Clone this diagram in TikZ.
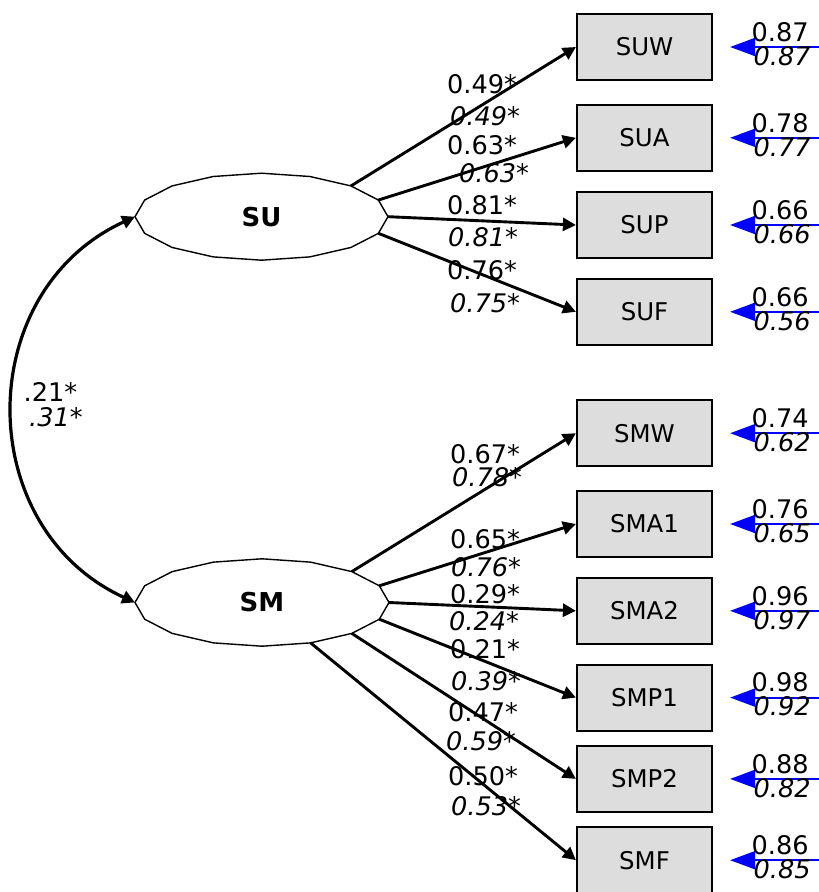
\documentclass[tikz,border=0pt]{standalone}
\usepackage{fontspec}
\setmainfont{DejaVu Sans}
\usepackage{tikz}
\usetikzlibrary{positioning, arrows.meta, calc}
\definecolor{obsFill}{HTML}{DDDDDD}
\definecolor{errBlue}{HTML}{0000FF}
\newcommand{\resid}[3]{%
  \coordinate (#1-e) at ([xshift=8.5pt]#1.east);
  \coordinate (#1-r) at ([xshift=56pt]#1.east);
  \draw[err] (#1-r) -- (#1-e);
  \node[val] (#1-v) at ([xshift=33.5pt, yshift=7.5pt]#1.east) {#2};
  \node[vali] (#1-vi) at ([xshift=34.5pt, yshift=-4.5pt]#1.east) {#3};
}

\begin{document}
\begin{tikzpicture}[x=0.5pt, y=-0.5pt, obs/.style={draw, line width=1.1pt, fill=obsFill, minimum width=67.5pt, minimum height=33pt, inner sep=0pt, font=\fontsize{12.2}{14}\selectfont},lat/.style={inner sep=0pt, font=\fontsize{13}{15}\selectfont\bfseries},latb/.style={line width=0.7pt},load/.style={line width=1.45pt, -{Triangle[length=6.5pt, width=6.5pt]}},cov/.style={line width=1.6pt, {Triangle[length=6.5pt, width=6.5pt]}-{Triangle[length=6.5pt, width=6.5pt]}},err/.style={errBlue, line width=1pt, -{Triangle[length=12.5pt, width=9pt]}},val/.style={inner sep=0pt, font=\fontsize{12.8}{14}\selectfont},vali/.style={inner sep=0pt, font=\fontsize{12.8}{14}\selectfont\itshape}]
\useasboundingbox (0,0) rectangle (818,892);
% indicators
\node[obs] (suw) at (644.5,47) {SUW};
\node[obs, below=11.3pt of suw] (sua) {SUA};
\node[obs, below=9.5pt of sua] (sup) {SUP};
\node[obs, below=9.3pt of sup] (suf) {SUF};
\node[obs, below=26.6pt of suf] (smw) {SMW};
\node[obs, below=11.3pt of smw] (sma1) {SMA1};
\node[obs, below=9.3pt of sma1] (sma2) {SMA2};
\node[obs, below=9.3pt of sma2] (smp1) {SMP1};
\node[obs, below=6.55pt of smp1] (smp2) {SMP2};
\node[obs, below=6.55pt of smp2] (smf) {SMF};
% factors
\node[lat] (su) at (261.5,216.7) {SU};
\node[lat] (sm) at (262,602.5) {SM};
\foreach \k in {0,...,15} {
  \coordinate (su-\k) at ($(su.center)+({126.5*cos(\k*22.5)},{43.5*sin(\k*22.5)})$);
  \coordinate (sm-\k) at ($(sm.center)+({127*cos(\k*22.5)},{43.7*sin(\k*22.5)})$);
}
\draw[latb] (su-0) \foreach \k in {1,...,15} {-- (su-\k)} -- cycle;
\draw[latb] (sm-0) \foreach \k in {1,...,15} {-- (sm-\k)} -- cycle;
% loadings
\draw[load] (su-14) -- (suw.west);
\draw[load] (su-15) -- (sua.west);
\draw[load] (su-0) -- (sup.west);
\draw[load] (su-1) -- (suf.west);
\draw[load] (sm-14) -- (smw.west);
\draw[load] (sm-15) -- (sma1.west);
\draw[load] (sm-0) -- (sma2.west);
\draw[load] (sm-1) -- (smp1.west);
\draw[load] (sm-2) -- (smp2.west);
\draw[load] (sm-3) -- (smf.west);
\draw[cov] (su-8) .. controls +(-163,75) and +(-163,-75) .. (sm-8);
\node[val] (c-a) at (50.5,392) {.21*};
\node[vali] (c-b) at (56,417) {.31*};
% residuals
\resid{suw}{0.87}{0.87}
\resid{sua}{0.78}{0.77}
\resid{sup}{0.66}{0.66}
\resid{suf}{0.66}{0.56}
\resid{smw}{0.74}{0.62}
\resid{sma1}{0.76}{0.65}
\resid{sma2}{0.96}{0.97}
\resid{smp1}{0.98}{0.92}
\resid{smp2}{0.88}{0.82}
\resid{smf}{0.86}{0.85}
% loading values
\node[val] (l-suw) at (482,84) {0.49*}; \node[vali] (li-suw) at (485,116) {0.49*};
\node[val] (l-sua) at (482,145) {0.63*}; \node[vali] (li-sua) at (494,173) {0.63*};
\node[val] (l-sup) at (482,205) {0.81*}; \node[vali] (li-sup) at (483,237) {0.81*};
\node[val] (l-suf) at (482,270) {0.76*}; \node[vali] (li-suf) at (485,303) {0.75*};
\node[val] (l-smw) at (485,454) {0.67*}; \node[vali] (li-smw) at (487,477) {0.78*};
\node[val] (l-sma1) at (485,539) {0.65*}; \node[vali] (li-sma1) at (486,567) {0.76*};
\node[val] (l-sma2) at (485,594) {0.29*}; \node[vali] (li-sma2) at (484,621) {0.24*};
\node[val] (l-smp1) at (485,649) {0.21*}; \node[vali] (li-smp1) at (486,681) {0.39*};
\node[val] (l-smp2) at (483,712) {0.47*}; \node[vali] (li-smp2) at (481,741) {0.59*};
\node[val] (l-smf) at (483,776) {0.50*}; \node[vali] (li-smf) at (486,806) {0.53*};
\end{tikzpicture}
\end{document}
